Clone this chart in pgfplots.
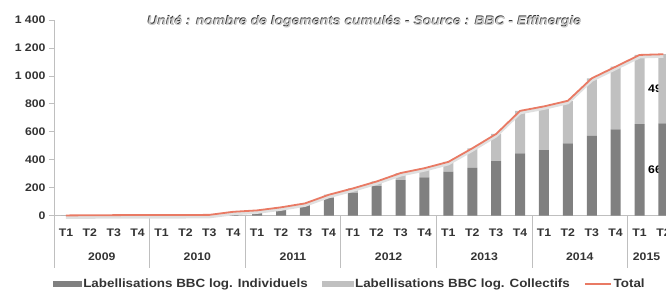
\documentclass[border=0pt]{standalone}
\usepackage{pgfplots}
\usepackage{pgfplotstable}
\pgfplotsset{compat=1.18}
\usepackage{fontspec}
\setmainfont{Liberation Sans}[FakeStretch=1.12]
\definecolor{dk}{HTML}{808080}
\definecolor{lt}{HTML}{C0C0C0}
\definecolor{ln}{HTML}{E97A64}
\definecolor{axc}{HTML}{BFBFBF}
\definecolor{tx}{HTML}{333333}
\pgfplotstableread{
x ind col tot
0 1 1 2
1 2 1 3
2 2 2 4
3 3 2 5
4 3 2 5
5 3 2 5
6 4 2 6
7 20 8 28
8 25 13 38
9 53 7 60
10 77 11 88
11 128 22 150
12 165 30 195
13 212 33 245
14 255 50 305
15 275 65 340
16 315 70 385
17 343 139 482
18 391 194 585
19 446 304 750
20 470 312 782
21 518 304 822
22 572 411 983
23 618 448 1066
24 656 494 1150
25 660 495 1155
}\data
\begin{document}
\begin{tikzpicture}
\begin{axis}[
  scale only axis, width=621.4bp, height=195.7bp,
  xmin=-0.5, xmax=25.5, ymin=0, ymax=1400,
  ybar stacked, bar width=10bp,
  axis lines*=left,
  axis line style={axc, line width=0.8bp},
  ytick={0,200,...,1400},
  yticklabels={0,200,400,600,800,1 000,1 200,1 400},
  xtick={0,...,25},
  xticklabels={T1,T2,T3,T4,T1,T2,T3,T4,T1,T2,T3,T4,T1,T2,T3,T4,T1,T2,T3,T4,T1,T2,T3,T4,T1,T2},
  x tick style={draw=none},
  y tick style={axc, line width=0.8bp},
  tick align=outside, major tick length=5bp,
  tick label style={font=\bfseries\fontsize{11}{13}\selectfont, text=tx},
  xticklabel style={anchor=center, yshift=-12bp},
  yticklabel style={anchor=east},
  clip=false,
]
\addplot[fill=dk, draw=none] table[x=x,y=ind]{\data};
\addplot[fill=lt, draw=none] table[x=x,y=col]{\data};
\draw[axc, line width=0.8bp] (axis cs:-0.5,0) -- ([yshift=-52bp]axis cs:-0.5,0);
\draw[axc, line width=0.8bp] (axis cs:3.5,0) -- ([yshift=-52bp]axis cs:3.5,0);
\draw[axc, line width=0.8bp] (axis cs:7.5,0) -- ([yshift=-52bp]axis cs:7.5,0);
\draw[axc, line width=0.8bp] (axis cs:11.5,0) -- ([yshift=-52bp]axis cs:11.5,0);
\draw[axc, line width=0.8bp] (axis cs:15.5,0) -- ([yshift=-52bp]axis cs:15.5,0);
\draw[axc, line width=0.8bp] (axis cs:19.5,0) -- ([yshift=-52bp]axis cs:19.5,0);
\draw[axc, line width=0.8bp] (axis cs:23.5,0) -- ([yshift=-52bp]axis cs:23.5,0);
\node[font=\bfseries\fontsize{11}{13}\selectfont, text=tx] at ([yshift=-41bp]axis cs:1.5,0) {2009};
\node[font=\bfseries\fontsize{11}{13}\selectfont, text=tx] at ([yshift=-41bp]axis cs:5.5,0) {2010};
\node[font=\bfseries\fontsize{11}{13}\selectfont, text=tx] at ([yshift=-41bp]axis cs:9.5,0) {2011};
\node[font=\bfseries\fontsize{11}{13}\selectfont, text=tx] at ([yshift=-41bp]axis cs:13.5,0) {2012};
\node[font=\bfseries\fontsize{11}{13}\selectfont, text=tx] at ([yshift=-41bp]axis cs:17.5,0) {2013};
\node[font=\bfseries\fontsize{11}{13}\selectfont, text=tx] at ([yshift=-41bp]axis cs:21.5,0) {2014};
\node[font=\bfseries\fontsize{11}{13}\selectfont, text=tx] at ([yshift=-41bp,xshift=-5bp]axis cs:24.5,0) {2015};
\node[font=\bfseries\fontsize{11}{13}\selectfont, text=black] at ([xshift=-5bp]axis cs:25,330) {660};
\node[font=\bfseries\fontsize{11}{13}\selectfont, text=black] at ([xshift=-5bp]axis cs:25,907) {495};
\node[font=\bfseries\itshape\fontsize{12.5}{14}\selectfont, text=black!20] at ([xshift=0.6bp,yshift=-1.2bp]axis cs:12.47,1390) {Unité : nombre de logements cumulés - Source : BBC - Effinergie};
\node[font=\bfseries\itshape\fontsize{12.5}{14}\selectfont, text=tx] at (axis cs:12.47,1390) {Unité : nombre de logements cumulés - Source : BBC - Effinergie};
\end{axis}
\begin{axis}[
  scale only axis, width=621.4bp, height=195.7bp,
  xmin=-0.5, xmax=25.5, ymin=0, ymax=1400,
  hide axis, clip=false,
  legend style={at={(0.476,-0.349)}, anchor=center, draw=none, fill=none,
    legend columns=3, font=\bfseries\fontsize{12}{13}\selectfont, text=tx,
    /tikz/every even column/.append style={column sep=12bp}},
]
\addlegendimage{legend image code/.code={\fill[dk] (0bp,-2.5bp) rectangle (28bp,2.5bp);}}
\addlegendentry{Labellisations BBC log. Individuels}
\addlegendimage{legend image code/.code={\fill[lt] (0bp,-2.5bp) rectangle (31bp,2.5bp);}}
\addlegendentry{Labellisations BBC log. Collectifs}
\addplot[color=black!12, line width=3bp, yshift=-2bp, forget plot] table[x=x,y=tot]{\data};
\addplot[color=ln, line width=1.8bp, legend image code/.code={\draw[ln, line width=1.8bp] (0bp,0bp) -- (26bp,0bp);}] table[x=x,y=tot]{\data};
\addlegendentry{Total}
\end{axis}
\pgfresetboundingbox
\path[use as bounding box] (-54bp,-75.3bp) rectangle (612bp,215.7bp);
\end{tikzpicture}
\end{document}
